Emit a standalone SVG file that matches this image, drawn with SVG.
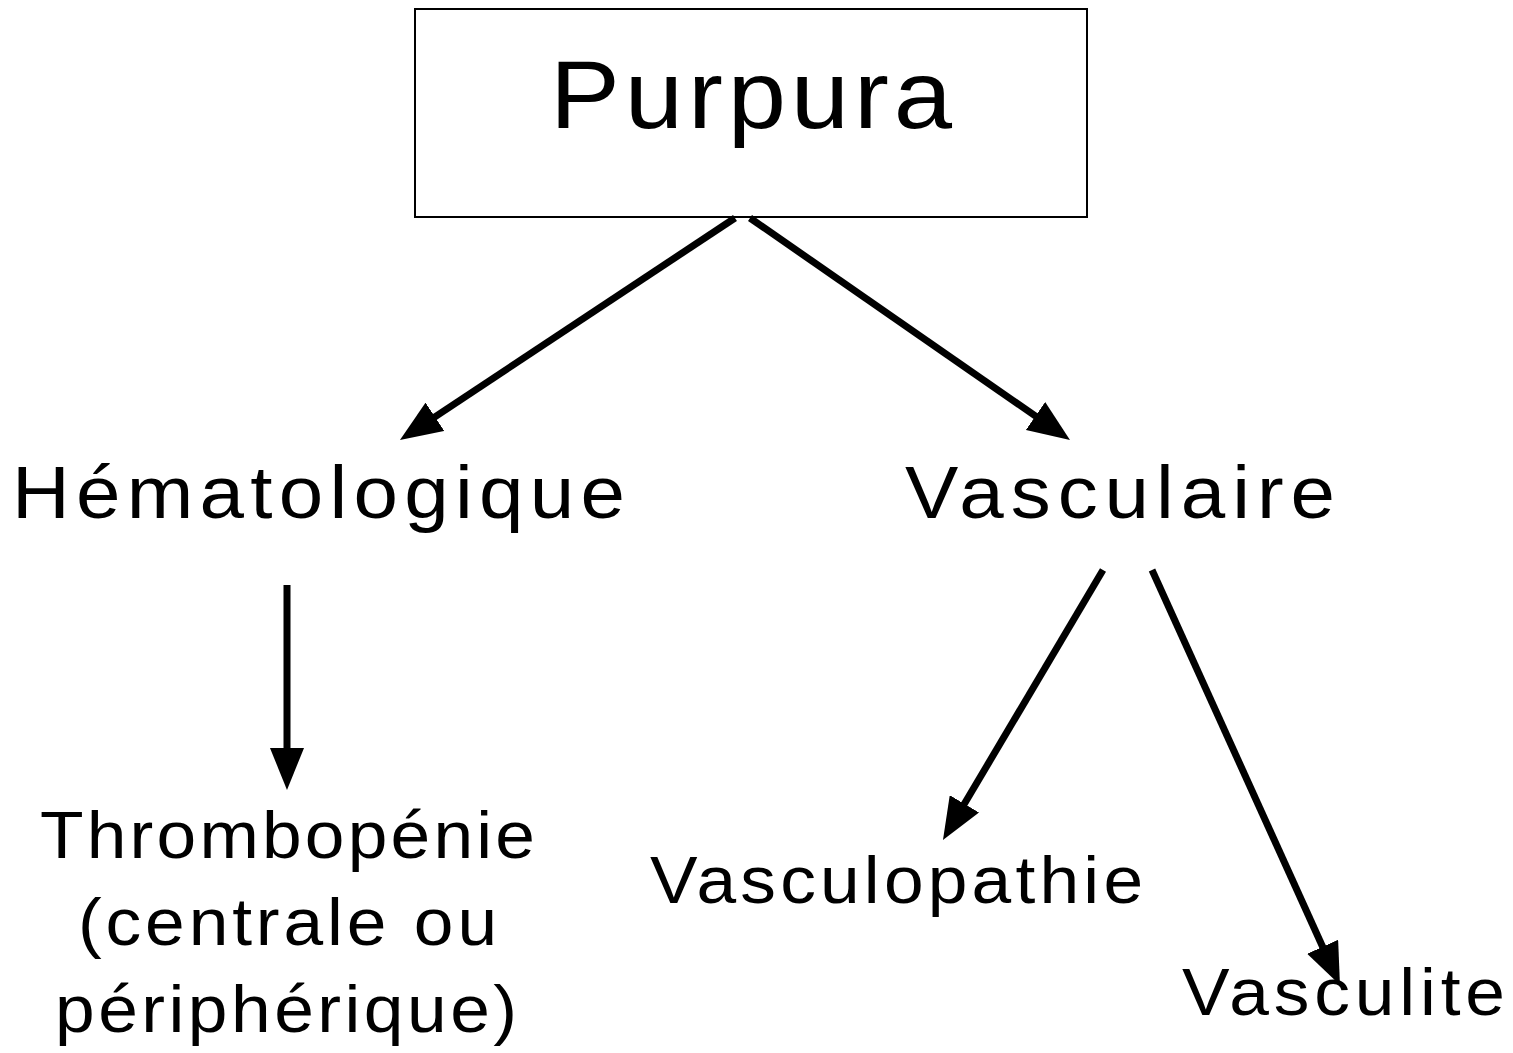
<svg xmlns="http://www.w3.org/2000/svg" width="1513" height="1053" viewBox="0 0 1513 1053">
<defs>
<style>
text{font-family:"Liberation Sans",Arial,sans-serif;fill:#000}
.big{font-size:97px}
.mid{font-size:74px}
.sm{font-size:66px}
.conn line{stroke:#000;stroke-width:7;marker-end:url(#ah)}
</style>
<marker id="ah" markerUnits="userSpaceOnUse" viewBox="0 0 42 34" refX="29" refY="17" markerWidth="42" markerHeight="34" orient="auto">
<path d="M0,0 L42,17 L0,34 Z" fill="#000"/>
</marker>
</defs>
<rect width="1513" height="1053" fill="#fff"/>
<g id="purpura">
<rect x="415" y="9" width="672" height="208" fill="#fff" stroke="#000" stroke-width="2"/>
<text class="big" transform="translate(550,128) scale(1.08,1)" textLength="372.2" lengthAdjust="spacing">Purpura</text>
</g>
<g id="hematologique">
<text class="mid" transform="translate(12,518) scale(1.08,1)" textLength="567.6" lengthAdjust="spacing">Hématologique</text>
</g>
<g id="vasculaire">
<text class="mid" transform="translate(905,518) scale(1.08,1)" textLength="398.1" lengthAdjust="spacing">Vasculaire</text>
</g>
<g id="thrombopenie">
<text class="sm" transform="translate(40,858) scale(1.08,1)" textLength="458.3" lengthAdjust="spacing">Thrombopénie</text>
<text class="sm" transform="translate(78,945) scale(1.08,1)" textLength="388" lengthAdjust="spacing">(centrale ou</text>
<text class="sm" transform="translate(55,1032) scale(1.08,1)" textLength="427.8" lengthAdjust="spacing">périphérique)</text>
</g>
<g id="vasculopathie">
<text class="sm" transform="translate(650,903) scale(1.08,1)" textLength="456.5" lengthAdjust="spacing">Vasculopathie</text>
</g>
<g id="vasculite">
<text class="sm" transform="translate(1182,1015) scale(1.08,1)" textLength="299.1" lengthAdjust="spacing">Vasculite</text>
</g>
<g id="connectors" class="conn">
<line x1="735" y1="218" x2="410.8" y2="432.8"/>
<line x1="750" y1="218" x2="1059.3" y2="432.6"/>
<line x1="287" y1="585" x2="287" y2="777"/>
<line x1="1103" y1="570" x2="949.6" y2="828.8"/>
<line x1="1152" y1="570" x2="1334.6" y2="973.2"/>
</g>
</svg>
